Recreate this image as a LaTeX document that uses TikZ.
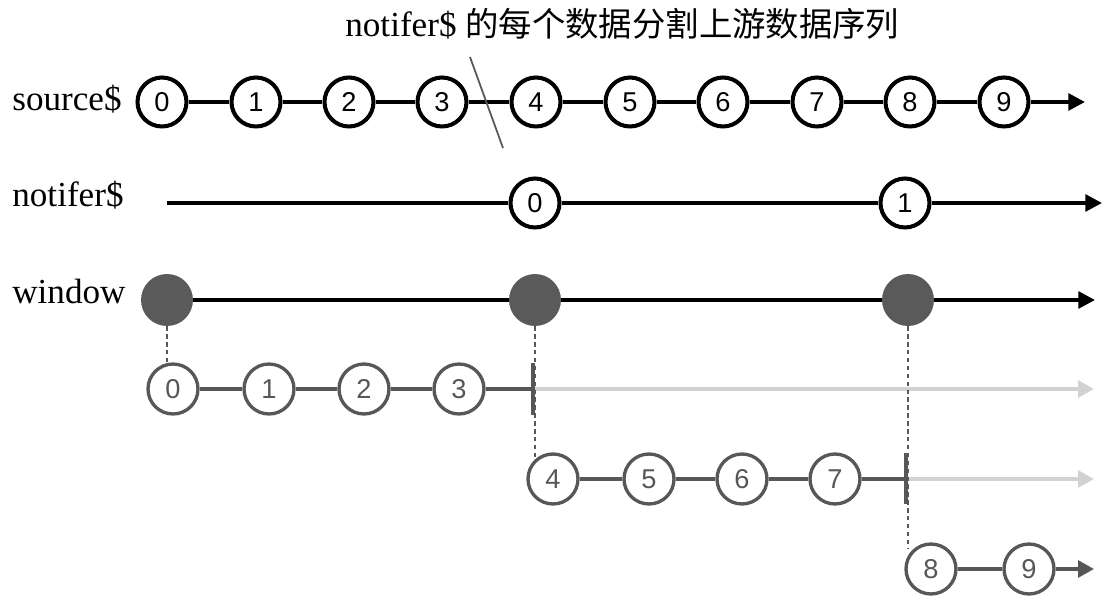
\documentclass[tikz,border=0pt]{standalone}
\usepackage{fontspec}
\setmainfont{Liberation Serif}
\newfontfamily\cjk{Noto Sans CJK SC}
\newfontfamily\digitfont{Liberation Sans}
\usetikzlibrary{arrows.meta}
\definecolor{subgray}{HTML}{575757}
\definecolor{lightline}{HTML}{D2D2D2}
\definecolor{winfill}{HTML}{5A5A5A}
\tikzset{
  label/.style={anchor=base west, inner sep=0pt, font=\fontsize{20}{24}\selectfont},
  srcball/.style={circle, draw=black, line width=2.3pt, fill=white, inner sep=0pt,
     minimum size=0.98cm, font=\digitfont\fontsize{15.5}{18}\selectfont},
  subball/.style={circle, draw=subgray, line width=1.9pt, fill=white, inner sep=0pt,
     minimum size=1.0cm, text=subgray, font=\digitfont\fontsize{15.5}{18}\selectfont},
  winball/.style={circle, fill=winfill, inner sep=0pt, minimum size=1.04cm},
  mainline/.style={draw=black, line width=2.2pt},
  mainarrow/.style={mainline, -{Triangle[length=9.5pt,width=9.5pt]}},
  subline/.style={draw=subgray, line width=1.9pt},
  subarrow/.style={subline, -{Triangle[length=9pt,width=9.5pt]}},
  fadearrow/.style={draw=lightline, line width=1.9pt, -{Triangle[length=9pt,width=9.5pt]}},
  termbar/.style={draw=subgray, line width=2pt},
  guide/.style={draw=subgray, line width=0.9pt, dash pattern=on 2.5pt off 2pt},
  slash/.style={draw=subgray, line width=1pt},
}
\begin{document}
\begin{tikzpicture}[x=0.02cm, y=-0.02cm]
\useasboundingbox (0,0) rectangle (1110,604);

% title
\node[label] (title) at (345,37) {notifer\$ {\cjk\fontsize{19}{22}\selectfont 的每个数据分割上游数据序列}};

% row labels
\node[label] (lsrc) at (12,111) {source\$};
\node[label] (lnot) at (12,207) {notifer\$};
\node[label] (lwin) at (12,304) {window};

% source$ row
\foreach \i/\x in {0/162,1/256,2/349,3/442,4/536,5/630,6/723,7/817,8/910,9/1004}
  \node[srcball] (s\i) at (\x,102) {\i};
\coordinate (send) at (1085,102);
\foreach \a/\b in {0/1,1/2,2/3,3/4,4/5,5/6,6/7,7/8,8/9}
  \draw[mainline] (s\a) -- (s\b);
\draw[mainarrow] (s9) -- (send);

% slash
\coordinate (sla) at (470,57);
\coordinate (slb) at (503,148);
\draw[slash] (sla) -- (slb);

% notifer$ row
\coordinate (nstart) at (167,203);
\node[srcball] (n0) at (535,203) {0};
\node[srcball] (n1) at (905,203) {1};
\coordinate (nend) at (1102,203);
\draw[mainline] (nstart) -- (n0);
\draw[mainline] (n0) -- (n1);
\draw[mainarrow] (n1) -- (nend);

% window row
\node[winball] (w0) at (167,300) {};
\node[winball] (w4) at (535,300) {};
\node[winball] (w8) at (908,300) {};
\coordinate (wend) at (1095,300);
\draw[mainline] (w0) -- (w4);
\draw[mainline] (w4) -- (w8);
\draw[mainarrow] (w8) -- (wend);

% sub-window A
\foreach \i/\x in {0/173,1/269,2/364,3/459}
  \node[subball] (a\i) at (\x,389) {\i};
\coordinate (aterm) at (533,389);
\coordinate (atermt) at (533,363);
\coordinate (atermb) at (533,415);
\coordinate (aend) at (1094,389);
\draw[subline] (a0) -- (a1);
\draw[subline] (a1) -- (a2);
\draw[subline] (a2) -- (a3);
\draw[subline] (a3) -- (aterm);
\draw[fadearrow] (aterm) -- (aend);
\draw[termbar] (atermt) -- (atermb);

% sub-window B
\foreach \i/\x in {4/553,5/649,6/742,7/835}
  \node[subball] (b\i) at (\x,479) {\i};
\coordinate (bterm) at (906,479);
\coordinate (btermt) at (906,453);
\coordinate (btermb) at (906,504);
\coordinate (bend) at (1094,479);
\draw[subline] (b4) -- (b5);
\draw[subline] (b5) -- (b6);
\draw[subline] (b6) -- (b7);
\draw[subline] (b7) -- (bterm);
\draw[fadearrow] (bterm) -- (bend);
\draw[termbar] (btermt) -- (btermb);

% sub-window C
\node[subball] (c8) at (931,569) {8};
\node[subball] (c9) at (1029,569) {9};
\coordinate (cend) at (1094,569);
\draw[subline] (c8) -- (c9);
\draw[subarrow] (c9) -- (cend);

% guides
\coordinate (g0) at (167,363);
\coordinate (g4) at (535,458);
\coordinate (g8) at (908,549);
\draw[guide] (w0.south) -- (g0);
\draw[guide] (w4.south) -- (g4);
\draw[guide] (w8.south) -- (g8);
\end{tikzpicture}
\end{document}
